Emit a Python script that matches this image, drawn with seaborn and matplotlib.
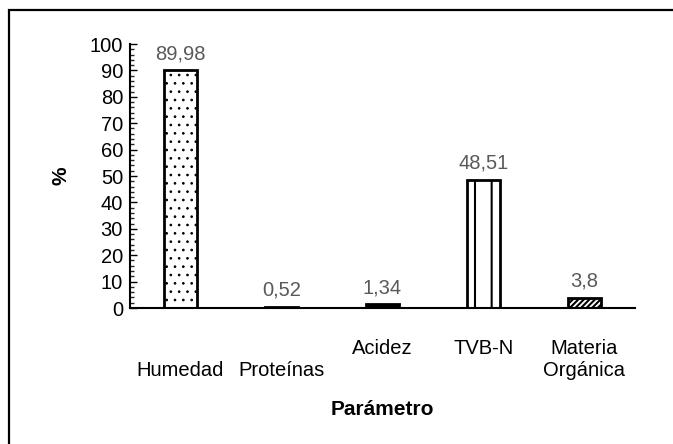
import matplotlib
matplotlib.use("Agg")
import matplotlib.pyplot as plt
import seaborn as sns
import pandas as pd
from matplotlib.patches import Rectangle
from matplotlib.ticker import MultipleLocator

categories = ["Humedad", "Proteínas", "Acidez", "TVB-N", "Materia Orgánica"]
tick_labels = ["\nHumedad", "\nProteínas", "Acidez", "TVB-N", "Materia\nOrgánica"]
values = [89.98, 0.52, 1.34, 48.51, 3.8]
value_labels = ["89,98", "0,52", "1,34", "48,51", "3,8"]
hatches = ["..", "", "", "|", "//////"]
hatch_lw = [0.7, 1.5, 1.5, 1.5, 1.5]
faces = ["white", "black", "black", "white", "white"]

sns.set_theme(style="white")
plt.rcParams["font.family"] = ["Liberation Sans", "DejaVu Sans"]
plt.rcParams["hatch.linewidth"] = 1.5
plt.rcParams["text.color"] = "black"

fig = plt.figure(figsize=(6.73, 4.44), dpi=100)
ax = fig.add_axes([130/673, 1-308/444, (635-130)/673, (308-44)/444])

df = pd.DataFrame({"cat": categories, "val": values})
sns.barplot(data=df, x="cat", y="val", ax=ax, color="white", edgecolor="black",
            linewidth=2.0, width=0.33)
for p, h, fc, hl in zip(ax.patches, hatches, faces, hatch_lw):
    p.set_hatch(h)
    p.set_facecolor(fc)
    p.set_edgecolor("black")
    try:
        p.set_hatch_linewidth(hl)
    except AttributeError:
        pass

fs = 14.5
for i, (v, lab) in enumerate(zip(values, value_labels)):
    ax.text(i, v + 2.8, lab, ha="center", va="bottom", fontsize=fs, color="#595959")

ax.set_ylim(0, 100)
ax.set_xlim(-0.5, 4.5)
ax.yaxis.set_major_locator(MultipleLocator(10))
ax.yaxis.set_minor_locator(MultipleLocator(2))
ax.tick_params(axis="y", which="major", direction="in", length=5, width=1, labelsize=fs,
               left=True, pad=5, colors="black")
ax.tick_params(axis="y", which="minor", direction="in", length=3, width=1, left=True)
ax.tick_params(axis="x", length=0, labelsize=fs, pad=22, colors="black")
ax.set_xticks(range(len(categories)))
ax.set_xticklabels(tick_labels, va="top", linespacing=1.25)

for s in ["top", "right"]:
    ax.spines[s].set_visible(False)
for s in ["left", "bottom"]:
    ax.spines[s].set_color("black")
    ax.spines[s].set_linewidth(1.5)

ax.set_ylabel("%", fontsize=15, fontweight="bold", labelpad=14, color="black")
ax.set_xlabel("Parámetro", fontsize=15, fontweight="bold", labelpad=14, color="black")

fig.patches.append(Rectangle((9/673, -0.05), 1.2, 1-10/444 + 0.05, transform=fig.transFigure,
                             fill=False, edgecolor="black", linewidth=1.6, zorder=10))

fig.savefig("out.png", dpi=100)
